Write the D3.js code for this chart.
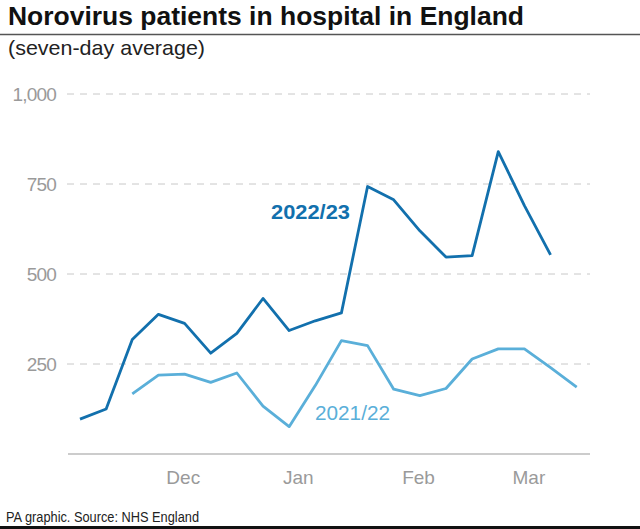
<!DOCTYPE html>
<html><head><meta charset="utf-8">
<script src="https://cdn.jsdelivr.net/npm/d3@7"></script>
<style>html,body{margin:0;padding:0;background:#fff}svg{display:block}</style>
</head><body>
<script>
const weeks22 = d3.range(0, 19);            // week index for 2022/23
const values22 = [97,125,318,388,363,280,335,432,343,370,392,743,706,620,547,551,840,690,553];
const weeks21 = d3.range(2, 20);            // week index for 2021/22
const values21 = [167,219,222,199,225,133,76,190,315,301,180,162,182,264,292,292,240,186];
const monthLabels = ["Dec","Jan","Feb","Mar"];
const monthPos = [3.95, 8.35, 12.95, 17.17];   // position in week units
const yTicks = [250, 500, 750, 1000];

const W = 640, H = 529;
const svg = d3.select("body").append("svg").attr("width", W).attr("height", H);
const font = "'Liberation Sans', Arial, sans-serif";

const x = d3.scaleLinear().domain([0, 19]).range([80, 576.7]);
const y = d3.scaleLinear().domain([0, 1000]).range([454, 94]);

// Title
svg.append("text").attr("x", 8).attr("y", 25)
  .attr("font-family", font).attr("font-weight", "bold").attr("font-size", 26.5)
  .attr("fill", "#111")
  .attr("textLength", 516).attr("lengthAdjust", "spacingAndGlyphs")
  .text("Norovirus patients in hospital in England");
svg.append("line").attr("x1", 0).attr("x2", W).attr("y1", 34.5).attr("y2", 34.5)
  .attr("stroke", "#555").attr("stroke-width", 1.5);
svg.append("text").attr("x", 8).attr("y", 55)
  .attr("font-family", font).attr("font-size", 21).attr("fill", "#222")
  .attr("textLength", 197).attr("lengthAdjust", "spacingAndGlyphs")
  .text("(seven-day average)");

// Grid
const g = svg.append("g");
g.selectAll(".grid").data(yTicks).join("line")
  .attr("x1", 67).attr("x2", 590)
  .attr("y1", d => y(d)).attr("y2", d => y(d))
  .attr("stroke", "#c8c8c8").attr("stroke-width", 1).attr("stroke-dasharray", "7,6");
g.selectAll(".ylab").data(yTicks).join("text")
  .attr("x", 56).attr("y", d => y(d) + 7)
  .attr("text-anchor", "end").attr("font-family", font).attr("font-size", 19)
  .attr("letter-spacing", -0.8).attr("fill", "#9a9a9a")
  .text(d => d3.format(",")(d));

// Baseline
svg.append("line").attr("x1", 68).attr("x2", 590).attr("y1", y(0)).attr("y2", y(0))
  .attr("stroke", "#999").attr("stroke-width", 1.2);

// X labels
svg.selectAll(".xlab").data(monthLabels).join("text")
  .attr("x", (d, i) => x(monthPos[i])).attr("y", 484)
  .attr("text-anchor", "middle").attr("font-family", font).attr("font-size", 19)
  .attr("fill", "#9a9a9a").text(d => d);

const line = d3.line().x(d => x(d[0])).y(d => y(d[1]));
svg.append("path").datum(weeks21.map((w, i) => [w, values21[i]]))
  .attr("d", line).attr("fill", "none").attr("stroke", "#5aafd9")
  .attr("stroke-width", 2.8).attr("stroke-linejoin", "round");
svg.append("path").datum(weeks22.map((w, i) => [w, values22[i]]))
  .attr("d", line).attr("fill", "none").attr("stroke", "#1270ad")
  .attr("stroke-width", 2.8).attr("stroke-linejoin", "round");

// Series labels
svg.append("text").attr("x", 271).attr("y", 218.5)
  .attr("font-family", font).attr("font-weight", "bold").attr("font-size", 21)
  .attr("fill", "#1270ad").attr("textLength", 79).attr("lengthAdjust", "spacingAndGlyphs")
  .text("2022/23");
svg.append("text").attr("x", 315).attr("y", 419.5)
  .attr("font-family", font).attr("font-size", 21)
  .attr("fill", "#5aafd9").attr("textLength", 75).attr("lengthAdjust", "spacingAndGlyphs")
  .text("2021/22");

// Footer
svg.append("text").attr("x", 6).attr("y", 521.5)
  .attr("font-family", font).attr("font-size", 14).attr("fill", "#222")
  .attr("textLength", 193).attr("lengthAdjust", "spacingAndGlyphs")
  .text("PA graphic. Source: NHS England");
svg.append("rect").attr("x", 0).attr("y", 526).attr("width", W).attr("height", 3).attr("fill", "#111");
</script>
</body></html>
